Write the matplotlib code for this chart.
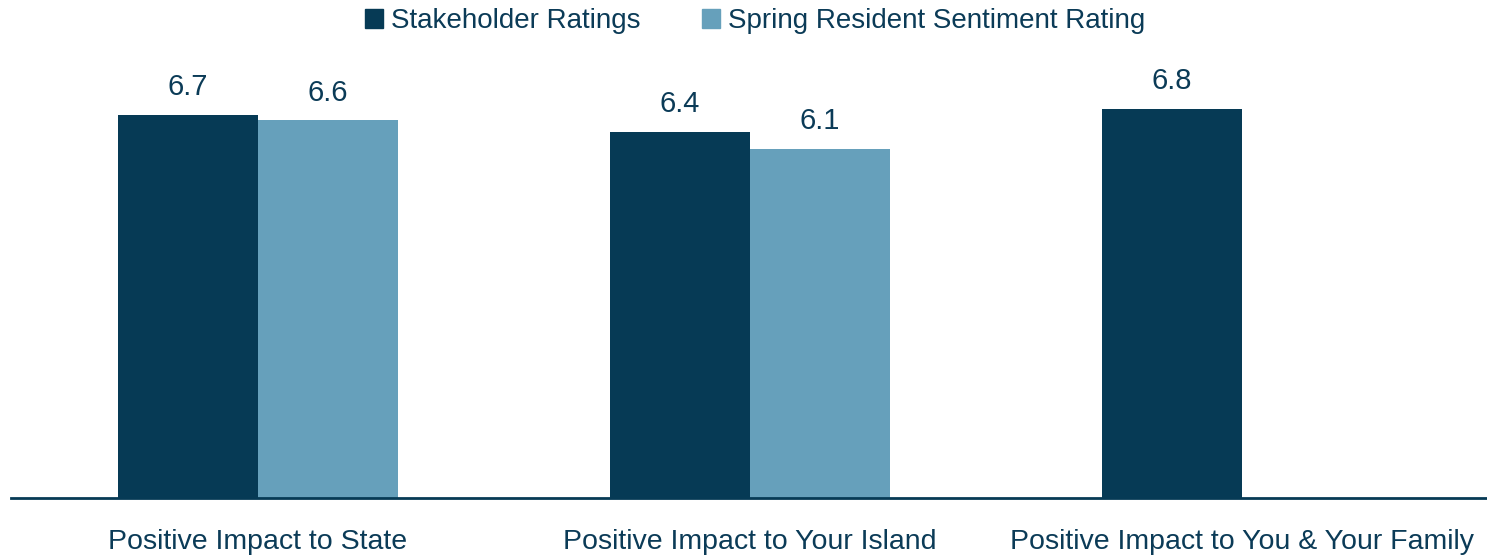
import matplotlib
matplotlib.use("Agg")
import matplotlib.pyplot as plt
import numpy as np
from matplotlib.patches import Patch

categories = ["Positive Impact to State", "Positive Impact to Your Island", "Positive Impact to You & Your Family"]
stakeholder = [6.7, 6.4, 6.8]
resident = [6.6, 6.1, np.nan]
series_names = ["Stakeholder Ratings", "Spring Resident Sentiment Rating"]

dark = "#063A55"
light = "#66A0BB"
txt = "#0B3B57"

plt.rcParams['font.family'] = ['Liberation Sans Narrow', 'Liberation Sans', 'DejaVu Sans']

fig = plt.figure(figsize=(14.87, 5.58), dpi=100)
ax = fig.add_axes([11/1487, 60/558, 1 - 11/1487, 0.8201])

x = np.arange(len(categories))
w = 0.285
b1 = ax.bar(x - w/2, stakeholder, w, color=dark)
b2 = ax.bar(x + w/2, resident, w, color=light)

for bars, vals in ((b1, stakeholder), (b2, resident)):
    for r, v in zip(bars, vals):
        if np.isnan(v):
            continue
        ax.annotate(f"{v:.1f}", (r.get_x() + r.get_width()/2, v), xytext=(0, 10),
                    textcoords="offset points", ha="center", va="bottom",
                    fontsize=21, color=txt)

ax.set_xlim(-0.502, 2.498)
ax.set_ylim(0, 8)
ax.set_xticks(x)
ax.set_xticklabels(categories, fontsize=20.5, color=txt)
ax.tick_params(axis='x', length=0, pad=22)
ax.set_yticks([])
for s in ("top", "right", "left"):
    ax.spines[s].set_visible(False)
ax.spines["bottom"].set_color(dark)
ax.spines["bottom"].set_linewidth(2)

handles = [Patch(color=dark), Patch(color=light)]
fig.legend(handles, series_names, loc="center", bbox_to_anchor=(755/1487, 1 - 21/558),
           ncol=2, frameon=False, fontsize=20, labelcolor=txt,
           handlelength=0.65, handleheight=0.65, handletextpad=0.3, columnspacing=2.2)

fig.savefig("out.png", dpi=100)
